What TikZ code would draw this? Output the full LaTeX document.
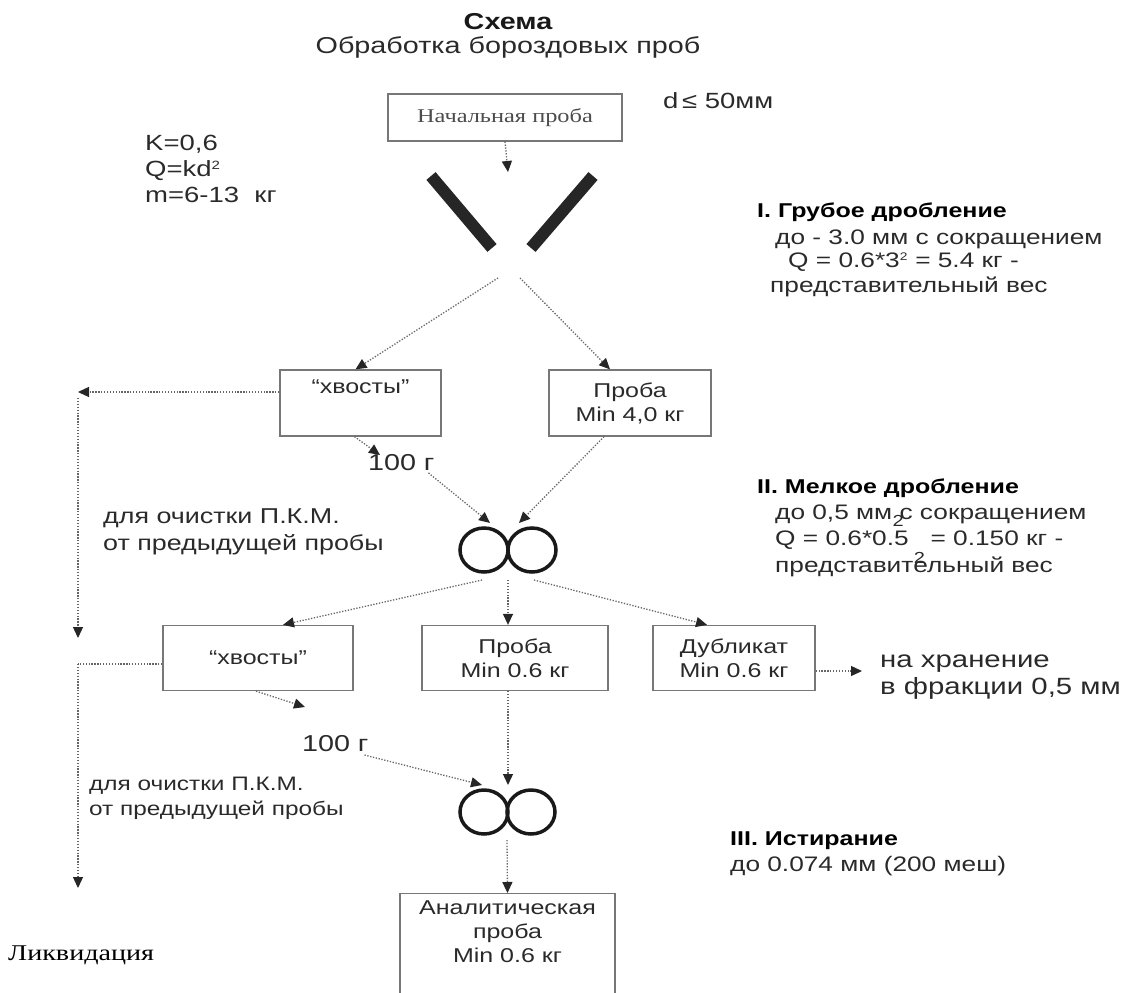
\documentclass[tikz,border=0pt]{standalone}
\usepackage{fontspec}
\setmainfont{Liberation Sans}[FakeStretch=1.25]
\newfontfamily\serifcyr{Liberation Serif}[FakeStretch=1.25]
\usetikzlibrary{arrows.meta}
\definecolor{txt}{HTML}{2A2A2A}
\definecolor{boxline}{HTML}{777777}
\definecolor{dotc}{HTML}{666666}
\newcommand{\fs}[1]{\fontsize{#1}{#1}\selectfont}
\tikzset{
  box/.style={draw=boxline, line width=1.3pt, inner sep=0pt, align=center, text=txt,
    font=\fontsize{20}{24}\selectfont},
  flow/.style={draw=dotc, line width=1.3pt, dash pattern=on 1.3pt off 1.6pt,
    -{Triangle[length=11pt,width=10pt,color=black!85]}},
  dotline/.style={draw=dotc, line width=1.3pt, dash pattern=on 1.3pt off 1.6pt},
  lbl/.style={text=txt, inner sep=0pt, anchor=west, text height=0.75em, text depth=0.2em},
  roll/.style={draw=black!90, line width=3.5pt},
  bar/.style={draw=black!85, line width=12pt}
}
\begin{document}
\begin{tikzpicture}[x=1pt,y=-1pt]
\useasboundingbox (0,0) rectangle (1147,992);
% titles
\node[text=black!90, inner sep=0pt, font=\bfseries\fs{23}] (t1) at (508,22) {Схема};
\node[text=txt, inner sep=0pt, font=\fs{23}] (t2) at (508,47) {Обработка бороздовых проб};
% first box
\node[box, minimum width=234pt, minimum height=47pt, text=black!70, font=\serifcyr\fs{19.5}] (b0) at (505,117.5) {Начальная проба};
\node[lbl, font=\fs{22}] (dd) at (663,106) {d\,≤ 50мм};
\node[lbl, font=\fs{22}] (k1) at (145,148) {K=0,6};
\node[lbl, font=\fs{22}] (k2) at (145,174) {Q=kd\textsuperscript{\fs{12}2}};
\node[lbl, font=\fs{22}] (k3) at (145,200) {m=6-13\ \ кг};
% crusher
\coordinate (crtop) at (508,172);
\draw[flow] (b0.south) -- (crtop);
\draw[bar] (431,176) -- (492,248);
\draw[bar] (593,176) -- (531,248);
\coordinate (sL) at (498,278);
\coordinate (sR) at (520,278);
% stage I text
\node[lbl, text=black, font=\bfseries\fs{20}] (s1) at (757,215) {I. Грубое дробление};
\node[lbl, font=\fs{21}] (s1b) at (775,242) {до - 3.0 мм с сокращением};
\node[lbl, font=\fs{21}] (s1c) at (788,265) {Q = 0.6*3\textsuperscript{\fs{11}2} = 5.4 кг -};
\node[lbl, font=\fs{21}] (s1d) at (770,290) {представительный вес};
% row 1 boxes
\node[box, minimum width=161pt, minimum height=66pt] (hv1) at (360.5,403) {“хвосты”\\[8pt]};
\node[box, minimum width=162pt, minimum height=66pt] (pr1) at (630,403) {Проба\\Min 4,0 кг};
\draw[flow] (sL) -- ([xshift=-5pt]hv1.north);
\draw[flow] (sR) -- ([xshift=-20pt]pr1.north);
% left waste line
\coordinate (L1) at (78,392);
\coordinate (L2) at (78,398);
\coordinate (L3) at (78,638);
\coordinate (L4) at (78,664);
\coordinate (L5) at (78,888);
\draw[flow] ([yshift=11pt]hv1.west) -- (L1);
\draw[flow] (L2) -- (L3);
% 100 g (1)
\node[lbl, font=\fs{23}] (g1) at (368,468) {100\,\,г};
\coordinate (g1a) at (380,455);
\draw[flow] ([xshift=-6pt]hv1.south) -- (g1a);
\coordinate (r1L) at (490,523);
\coordinate (r1R) at (519,523);
\draw[flow] ([xshift=-6pt]g1.south east) -- (r1L);
\draw[flow] ([xshift=-26pt]pr1.south) -- (r1R);
\node[lbl, font=\fs{21.5}] (c1a) at (103,521) {для очистки П.К.М.};
\node[lbl, font=\fs{21.5}] (c1b) at (103,548) {от предыдущей пробы};
% rollers 1
\coordinate (r1) at (508,550);
\draw[roll] (484,550) ellipse (24pt and 22pt);
\draw[roll] (532,550) ellipse (24pt and 22pt);
% stage II text
\node[lbl, text=black, font=\bfseries\fs{20}] (s2) at (757,491) {II. Мелкое дробление};
\node[lbl, font=\fs{21}] (s2b) at (775,517) {до 0,5 мм\rlap{\kern0.02em\raisebox{-0.32em}{\fs{16}2}} с сокращением};
\node[lbl, font=\fs{21}] (s2c) at (775,543) {Q = 0.6*0.5 \ \ = 0.150 кг -};
\node[lbl, font=\fs{21}] (s2d) at (775,570) {представит\rlap{\kern0.02em\raisebox{0.42em}{\fs{16}2}}ельный вес};
% row 2 boxes
\node[box, minimum width=190pt, minimum height=65pt] (hv2) at (258,658) {“хвосты”};
\node[box, minimum width=186pt, minimum height=65pt] (pr2) at (515,658) {Проба\\Min 0.6 кг};
\node[box, minimum width=162pt, minimum height=65pt] (du) at (734,658) {Дубликат\\Min 0.6 кг};
\coordinate (r1a) at (482,580);
\coordinate (r1b) at (508,580);
\coordinate (r1c) at (534,580);
\draw[flow] (r1a) -- ([xshift=25pt]hv2.north);
\draw[flow] (r1b) -- (r1b |- pr2.north);
\draw[flow] (r1c) -- ([xshift=-27pt]du.north);
\coordinate (st) at (862,671);
\draw[flow] ([yshift=-13pt]du.east) -- (st);
\node[lbl, font=\fs{23.5}] (keep1) at (880,665) {на хранение};
\node[lbl, font=\fs{23.5}] (keep2) at (880,692) {в фракции 0,5 мм};
% left waste line 2
\draw[dotline] ([yshift=-6pt]hv2.west) -- (L4);
\draw[flow] (L4) -- (L5);
\node[lbl, text=black, font=\serifcyr\fs{22.5}] (liq) at (8,958) {Ликвидация};
% 100 g (2)
\node[lbl, font=\fs{23}] (g2) at (302,749) {100\,\,г};
\coordinate (g2a) at (305,707);
\draw[flow] ([xshift=-2pt]hv2.south) -- (g2a);
\coordinate (r2L) at (482,785);
\coordinate (r2R) at (508,785);
\draw[flow] ([yshift=-6pt,xshift=-4pt]g2.east) -- (r2L);
\draw[flow] ([xshift=-7pt]pr2.south) -- (r2R);
\node[lbl, font=\fs{19.5}] (c2a) at (89,788) {для очистки П.К.М.};
\node[lbl, font=\fs{19.5}] (c2b) at (89,813) {от предыдущей пробы};
% rollers 2
\coordinate (r2) at (508,812);
\draw[roll] (484,812) ellipse (24pt and 22pt);
\draw[roll] (531,812) ellipse (24pt and 22pt);
% stage III
\node[lbl, text=black, font=\bfseries\fs{20}] (s3) at (730,843) {III. Истирание};
\node[lbl, font=\fs{21}] (s3b) at (730,869) {до 0.074 мм (200 меш)};
% analytic
\node[box, minimum width=215pt, minimum height=100pt, anchor=north] (an) at (507.5,893) {Аналитическая\\проба\\Min 0.6 кг\\\mbox{}};
\coordinate (r2b) at (507,840);
\draw[flow] (r2b) -- (an.north);
\end{tikzpicture}
\end{document}
